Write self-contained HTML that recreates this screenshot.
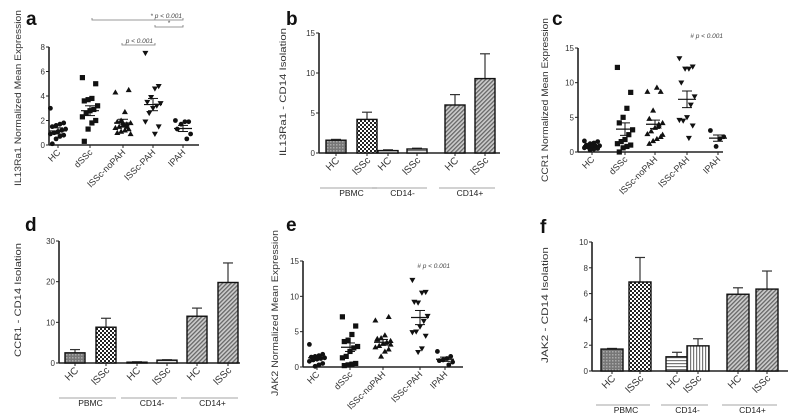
<!DOCTYPE html>
<html><head><meta charset="utf-8"><style>
html,body{margin:0;padding:0;background:#fff;}
svg{display:block;font-family:"Liberation Sans",sans-serif;}
</style></head><body>
<svg id="fig" width="800" height="419" viewBox="0 0 800 419">
<defs>
<pattern id="p-dense" width="3" height="3" patternUnits="userSpaceOnUse"><rect width="3" height="3" fill="#777"/><rect width="1.5" height="1.5" fill="#aaa"/></pattern>
<pattern id="p-check" width="4" height="4" patternUnits="userSpaceOnUse"><rect width="4" height="4" fill="#fff"/><rect width="2" height="2" fill="#222"/><rect x="2" y="2" width="2" height="2" fill="#222"/></pattern>
<pattern id="p-horiz" width="3" height="3" patternUnits="userSpaceOnUse"><rect width="3" height="3" fill="#fff"/><rect width="3" height="1.2" fill="#777"/></pattern>
<pattern id="p-vert" width="3" height="3" patternUnits="userSpaceOnUse"><rect width="3" height="3" fill="#fff"/><rect width="1.2" height="3" fill="#777"/></pattern>
<pattern id="p-diag" width="3" height="3" patternUnits="userSpaceOnUse" patternTransform="rotate(45)"><rect width="3" height="3" fill="#ccc"/><rect width="1.3" height="3" fill="#666"/></pattern>
</defs>
</svg>
<script>
// ---------- data ----------
const scatterCats = ["HC","dSSc","lSSc-noPAH","lSSc-PAH","IPAH"];
const aHC=[3.0,1.8,1.7,1.6,1.5,1.3,1.2,1.1,1.0,0.9,0.8,0.7,0.5,0.1];
const aDSSc=[5.5,5.0,3.8,3.7,3.6,3.2,2.9,2.8,2.6,2.3,2.0,1.8,1.3,0.3];
const aNoPAH=[4.3,4.5,2.7,2.0,1.9,1.8,1.7,1.6,1.5,1.4,1.3,1.2,1.1,1.0,0.9,1.5,1.8];
const aPAH=[7.5,4.8,4.6,3.9,3.5,3.4,3.2,3.0,2.6,1.9,1.5,0.9];
const aIPAH=[2.0,1.9,1.9,1.7,1.3,0.9,0.5];
const aMean=[1.15,2.8,1.8,3.3,1.35];
const aSem=[0.25,0.4,0.3,0.5,0.25];
const cHC=[1.6,1.5,1.3,1.2,1.0,0.9,0.8,0.8,0.7,0.6,0.5,0.4,0.3];
const cDSSc=[12.2,8.6,6.3,5.0,4.2,3.2,2.5,1.8,1.5,1.2,1.0,0.8,0.6,0.0];
const cNoPAH=[8.7,8.7,9.3,6.0,4.8,4.2,4.0,3.5,3.0,2.6,2.2,1.9,1.6,1.2,2.5,3.7];
const cPAH=[13.5,12.3,12.0,12.0,10.0,8.0,6.8,5.0,4.5,4.6,3.8,2.0];
const cIPAH=[3.1,2.2,1.9,0.8];
const cMean=[0.9,3.3,4.0,7.6,2.0];
const cSem=[0.2,0.9,0.6,1.2,0.45];
const eHC=[3.2,1.8,1.6,1.5,1.4,1.3,1.2,1.1,1.0,0.8,0.5,0.3,0.1];
const eDSSc=[7.1,5.8,4.6,3.8,3.6,2.9,2.7,2.2,1.5,1.3,0.5,0.4,0.3,0.2];
const eNoPAH=[6.6,7.1,4.5,4.1,3.9,3.7,3.5,3.3,3.0,2.8,2.5,2.2,1.5,4.0,3.2];
const ePAH=[12.3,10.6,10.5,9.1,9.2,7.2,6.5,5.7,5.0,4.9,4.4,2.6,2.1];
const eIPAH=[2.2,1.5,1.2,1.0,0.9,0.7,0.3];
const eMean=[1.3,2.8,3.5,7.0,1.1];
const eSem=[0.3,0.6,0.4,1.0,0.3];
const barCats=["HC","lSSc","HC","lSSc","HC","lSSc"];
const groupLabels=["PBMC","CD14-","CD14+"];
const bVals=[1.6,4.2,0.3,0.5,6.0,9.3];
const bErr=[0.1,0.9,0.1,0.1,1.3,3.1];
const dVals=[2.5,8.8,0.2,0.7,11.5,19.8];
const dErr=[0.8,2.2,0.1,0.1,2.0,4.8];
const fVals=[1.7,6.9,1.1,1.95,5.95,6.35];
const fErr=[0.05,1.9,0.35,0.55,0.5,1.4];
const ticksA=[0,2,4,6,8], ticksC=[0,5,10,15], ticksB=[0,5,10,15], ticksD=[0,10,20,30], ticksF=[0,2,4,6,8,10];

// ---------- helpers ----------
const svg=document.getElementById('fig');
const NS='http://www.w3.org/2000/svg';
function mk(tag,attrs,parent){const e=document.createElementNS(NS,tag);for(const k in attrs)e.setAttribute(k,attrs[k]);(parent||svg).appendChild(e);return e;}
function txt(s,attrs,parent){const e=mk('text',attrs,parent);e.textContent=s;return e;}

function axes(g,p,ticks){
  const y=v=>p.y0-(v/p.ymax)*(p.y0-p.ytop);
  const ax=mk('line',{x1:p.ax,y1:p.ytop,x2:p.ax,y2:p.y0,stroke:'#222','stroke-width':1.6},g);
  
  
  const bx=mk('line',{x1:p.ax,y1:p.y0,x2:p.xend,y2:p.y0,stroke:'#222','stroke-width':1.6},g);
  
  
  ticks.forEach(t=>{
    mk('line',{x1:p.ax-3,y1:y(t),x2:p.ax,y2:y(t),stroke:'#222','stroke-width':1},g);
    const tl=txt(String(t),{x:p.ax-4,y:y(t)+3,'font-size':8,'text-anchor':'end',fill:'#333'},g);
    
    
  });
  const tt=txt(p.title,{x:0,y:0,'font-size':9.5,'text-anchor':'middle',fill:'#333',transform:`translate(${p.tx},${p.ty}) rotate(-90)`,textLength:p.tlen,lengthAdjust:'spacingAndGlyphs'},g);
  
  
  const pl=txt(p.letter,{x:p.lx,y:p.ly,'font-size':19,'font-weight':'bold',fill:'#111'},g);
  
  
  return y;
}
function marker(g,kind,x,y){
  const s=2.6;let e;
  if(kind==='circle')e=mk('circle',{cx:x,cy:y,r:2.4,fill:'#111'},g);
  else if(kind==='square')e=mk('rect',{x:x-s,y:y-s,width:2*s,height:2*s,fill:'#111'},g);
  else if(kind==='up')e=mk('path',{d:`M${x},${y-3} L${x+3},${y+2.2} L${x-3},${y+2.2}Z`,fill:'#111'},g);
  else e=mk('path',{d:`M${x},${y+3} L${x+3},${y-2.2} L${x-3},${y-2.2}Z`,fill:'#111'},g);
  
  
}
function scatterPanel(p,groups,means,sems,ticks){
  const g=mk('g',{});
  
  
  const y=axes(g,p,ticks);
  const kinds=['circle','square','up','down','circle'];
  groups.forEach((vals,gi)=>{
    const cx=p.cx[gi];
    vals.forEach((v,i)=>marker(g,kinds[gi],cx+((i*7)%9-4)*1.9,y(v)));
    const m=mk('line',{x1:cx-9,x2:cx+9,y1:y(means[gi]),y2:y(means[gi]),stroke:'#111','stroke-width':1.2},g);
    
    
    [means[gi]+sems[gi],means[gi]-sems[gi]].forEach(v=>mk('line',{x1:cx-5,x2:cx+5,y1:y(v),y2:y(v),stroke:'#111','stroke-width':1},g));
    mk('line',{x1:cx,x2:cx,y1:y(means[gi]+sems[gi]),y2:y(means[gi]-sems[gi]),stroke:'#111','stroke-width':1},g);
    mk('line',{x1:cx,x2:cx,y1:p.y0,y2:p.y0+3,stroke:'#222','stroke-width':1},g);
    const cl=txt(scatterCats[gi],{x:0,y:0,'font-size':9,'text-anchor':'end',fill:'#333',transform:`translate(${cx+3},${p.y0+8}) rotate(-45)`},g);
    
    
  });
  return {g,y};
}
const patterns=['p-dense','p-check','p-horiz','p-vert','p-diag','p-diag'];
function barPanel(p,vals,errs,ticks,pats){
  const g=mk('g',{});
  
  
  const y=axes(g,p,ticks);
  vals.forEach((v,i)=>{
    const cx=p.cx[i],w=p.bw;
    mk('line',{x1:cx,x2:cx,y1:y(v),y2:y(v+errs[i]),stroke:'#333','stroke-width':1.2},g);
    mk('line',{x1:cx-5,x2:cx+5,y1:y(v+errs[i]),y2:y(v+errs[i]),stroke:'#333','stroke-width':1.2},g);
    const r=mk('rect',{x:cx-w/2,y:y(v),width:w,height:p.y0-y(v),fill:`url(#${pats[i]})`,stroke:'#111','stroke-width':1.4},g);
    
    
    mk('line',{x1:cx,x2:cx,y1:p.y0,y2:p.y0+3,stroke:'#222','stroke-width':1},g);
    const cl=txt(barCats[i],{x:0,y:0,'font-size':10,'text-anchor':'end',fill:'#333',transform:`translate(${cx+4},${p.y0+8}) rotate(-45)`},g);
    
    
  });
  groupLabels.forEach((gl,k)=>{
    const x1=p.cx[2*k]-16,x2=p.cx[2*k+1]+10;
    mk('line',{x1,x2,y1:p.gy-8,y2:p.gy-8,stroke:'#888','stroke-width':0.8},g);
    const t=txt(gl,{x:(x1+x2)/2+3,y:p.gy,'font-size':8.5,'text-anchor':'middle',fill:'#222'},g);
    
    
  });
  return g;
}

// ---------- panels ----------
const pa=scatterPanel({letter:'a',lx:26,ly:25,ax:49,y0:145,ytop:47,ymax:8,xend:199,cx:[58,90,123,153,183],
  title:'IL13Ra1 Normalized Mean Expression',tx:21,ty:98,tlen:176},[aHC,aDSSc,aNoPAH,aPAH,aIPAH],aMean,aSem,ticksA);
// significance brackets panel a
[[92,183,20],[155,183,27],[122,155,45]].forEach(b=>{
  const l=mk('path',{d:`M${b[0]},${b[2]-2}V${b[2]}H${b[1]}V${b[2]-2}`,fill:'none',stroke:'#777','stroke-width':0.8},pa.g);
  
  
});
[['* p < 0.001',182,18],['*',170,25],['p < 0.001',153,43]].forEach(s=>{
  const t=txt(s[0],{x:s[1],y:s[2],'font-size':6.5,'text-anchor':'end',fill:'#444','font-style':'italic'},pa.g);
  
  
});

barPanel({letter:'b',lx:286,ly:25,ax:319,y0:153,ytop:33,ymax:15,xend:500,cx:[336,367,388,417,455,485],bw:20,gy:196,
  title:'IL13Ra1 - CD14 Isolation',tx:286,ty:92,tlen:128},bVals,bErr,ticksB,['p-dense','p-check','p-horiz','p-horiz','p-diag','p-diag']);

const pc=scatterPanel({letter:'c',lx:552,ly:25,ax:578,y0:152,ytop:48,ymax:15,xend:723,cx:[592,625,655,687,718],
  title:'CCR1 Normalized Mean Expression',tx:548,ty:100,tlen:164},[cHC,cDSSc,cNoPAH,cPAH,cIPAH],cMean,cSem,ticksC);
let t1=txt('# p < 0.001',{x:723,y:38,'font-size':6.5,'text-anchor':'end',fill:'#444','font-style':'italic'},pc.g);



barPanel({letter:'d',lx:25,ly:231,ax:59,y0:363,ytop:241,ymax:30,xend:240,cx:[75,106,137,167,197,228],bw:20,gy:406,
  title:'CCR1 - CD14 Isolation',tx:21,ty:300,tlen:114},dVals,dErr,ticksD,['p-dense','p-check','p-horiz','p-horiz','p-diag','p-diag']);

const pe=scatterPanel({letter:'e',lx:286,ly:231,ax:303,y0:367,ytop:261,ymax:15,xend:463,cx:[317,350,383,420,445],
  title:'JAK2 Normalized Mean Expression',tx:278,ty:313,tlen:166},[eHC,eDSSc,eNoPAH,ePAH,eIPAH],eMean,eSem,ticksC);
let t2=txt('# p < 0.001',{x:450,y:268,'font-size':6.5,'text-anchor':'end',fill:'#444','font-style':'italic'},pe.g);



barPanel({letter:'f',lx:540,ly:233,ax:592,y0:371,ytop:242,ymax:10,xend:788,cx:[612,640,677,698,738,767],bw:22,gy:413,
  title:'JAK2 - CD14 Isolation',tx:548,ty:305,tlen:116},fVals,fErr,ticksF,['p-dense','p-check','p-horiz','p-vert','p-diag','p-diag']);
</script>
</body></html>
